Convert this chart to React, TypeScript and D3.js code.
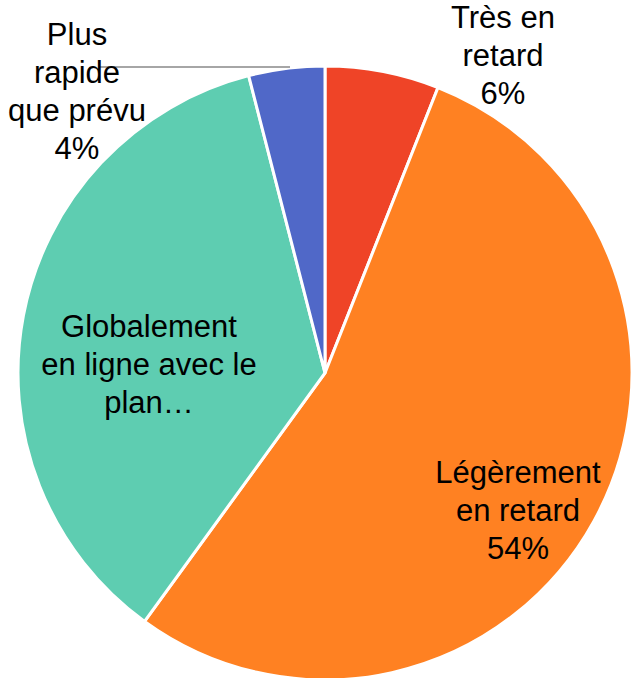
import React from "react";
import * as d3 from "d3";

const categories = ["Très en retard", "Légèrement en retard", "Globalement en ligne avec le plan", "Plus rapide que prévu"];
const values = [6, 54, 36, 4];
const colors = ["#EF4427", "#FF8122", "#5ECDB1", "#5068C8"];
const labelLines = [
  ["Très en", "retard", "6%"],
  ["Légèrement", "en retard", "54%"],
  ["Globalement", "en ligne avec le", "plan…"],
  ["Plus", "rapide", "que prévu", "4%"],
];
// label block centre (x) and first baseline (y), in px
const labelPos = [
  [503, 28],
  [518, 483],
  [149, 337],
  [77, 45],
];

export default function App() {
  const W = 633, H = 678;
  const cx = 325, cy = 373, r = 307;
  const pie = d3.pie<number>().sort(null).value((d) => d);
  const arcs = pie(values);
  const arc = d3.arc<d3.PieArcDatum<number>>().innerRadius(0).outerRadius(r);
  const lh = 38;
  return (
    <svg width={W} height={H} style={{ position: "absolute", left: 0, top: 0 }}>
      <g transform={`translate(${cx},${cy})`}>
        {arcs.map((a, i) => (
          <path key={i} d={arc(a) || ""} fill={colors[i]} stroke="#fff" strokeWidth={3} />
        ))}
      </g>
      <line x1={100} x2={290} y1={67} y2={67} stroke="#A6A6A6" strokeWidth={2} />
      {labelLines.map((lines, i) => (
        <text key={i} fontFamily="Liberation Sans, Arial, sans-serif" fontSize={31} fill="#000" textAnchor="middle">
          {lines.map((l, j) => (
            <tspan key={j} x={labelPos[i][0]} y={labelPos[i][1] + j * lh}>{l}</tspan>
          ))}
        </text>
      ))}
    </svg>
  );
}
